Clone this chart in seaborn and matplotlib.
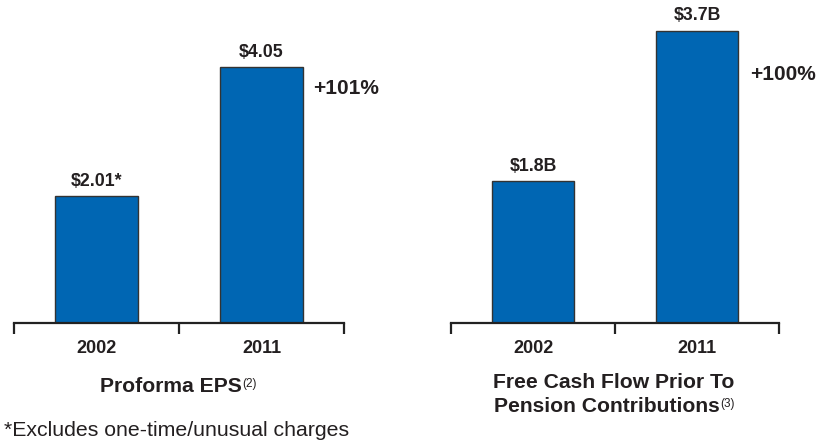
import matplotlib
matplotlib.use("Agg")
import matplotlib.pyplot as plt
import seaborn as sns
import pandas as pd

years = ["2002", "2011"]
eps_values = [2.01, 4.05]
eps_labels = ["$2.01*", "$4.05"]
eps_growth = "+101%"
fcf_values = [1.8, 3.7]
fcf_labels = ["$1.8B", "$3.7B"]
fcf_growth = "+100%"

sns.set_theme(style="white")
plt.rcParams['font.family'] = ['Liberation Sans', 'DejaVu Sans']
TXT = "#231f20"
BAR = "#0066b3"

W, H = 817, 441
fig = plt.figure(figsize=(W / 100, H / 100), dpi=100)

def px_axes(x0, x1, ybase):
    return fig.add_axes([x0 / W, (H - ybase) / H, (x1 - x0) / W, ybase / H])

ax1 = px_axes(14, 344, 323)
ax2 = px_axes(451, 779, 323)

def panel(ax, values, labels, ytop):
    df = pd.DataFrame({"year": years, "value": values})
    sns.barplot(data=df, x="year", y="value", color=BAR, width=0.5,
                edgecolor="#333333", linewidth=1.0, saturation=1, ax=ax)
    ax.set_xlim(-0.5, 1.5)
    ax.set_ylim(0, ytop)
    for s in ["top", "right", "left"]:
        ax.spines[s].set_visible(False)
    ax.spines["bottom"].set_linewidth(1.6)
    ax.spines["bottom"].set_color("#222222")
    ax.set_yticks([])
    ax.set_xlabel("")
    ax.set_ylabel("")
    ax.set_xticks([0, 1])
    ax.set_xticklabels(years, fontsize=13, fontweight="bold", color=TXT)
    ax.tick_params(axis="x", which="major", length=0, pad=12)
    ax.set_xticks([-0.5, 0.5, 1.5], minor=True)
    ax.tick_params(axis="x", which="minor", bottom=True, length=8, width=1.6,
                   color="#222222", direction="out")
    for i, (v, lab) in enumerate(zip(values, labels)):
        ax.annotate(lab, xy=(i, v), xytext=(0, 4.5), textcoords="offset points",
                    ha="center", va="bottom", fontsize=12.8, fontweight="bold",
                    color=TXT)
    ax.patch.set_alpha(0)

panel(ax1, eps_values, eps_labels, 323 / 63.2)
panel(ax2, fcf_values, fcf_labels, 323 / 79.0)

def ftext(x, y, s, **kw):
    return fig.text(x / W, 1 - y / H, s, **kw)

ftext(313, 88, eps_growth, ha="left", va="center", fontsize=15,
      fontweight="bold", color=TXT)
ftext(750, 75, fcf_growth, ha="left", va="center", fontsize=15,
      fontweight="bold", color=TXT)

t1 = ftext(171, 387, "Proforma EPS", ha="center", va="center", fontsize=15.2,
           fontweight="bold", color=TXT)
fig.canvas.draw()
r = fig.canvas.get_renderer()
bb = t1.get_window_extent(r)
fig.text(bb.x1 / W, bb.y1 / H - 0.001, "(2)", ha="left", va="top",
         fontsize=8.5, color=TXT)

ftext(614, 383, "Free Cash Flow Prior To", ha="center", va="center",
      fontsize=15.2, fontweight="bold", color=TXT)
t2 = ftext(607, 407, "Pension Contributions", ha="center", va="center",
           fontsize=15.2, fontweight="bold", color=TXT)
bb2 = t2.get_window_extent(r)
fig.text(bb2.x1 / W, bb2.y1 / H - 0.001, "(3)", ha="left", va="top",
         fontsize=8.5, color=TXT)

ftext(4, 430, "*Excludes one-time/unusual charges", ha="left", va="center",
      fontsize=15.3, color=TXT)

fig.savefig("out.png", dpi=100)
